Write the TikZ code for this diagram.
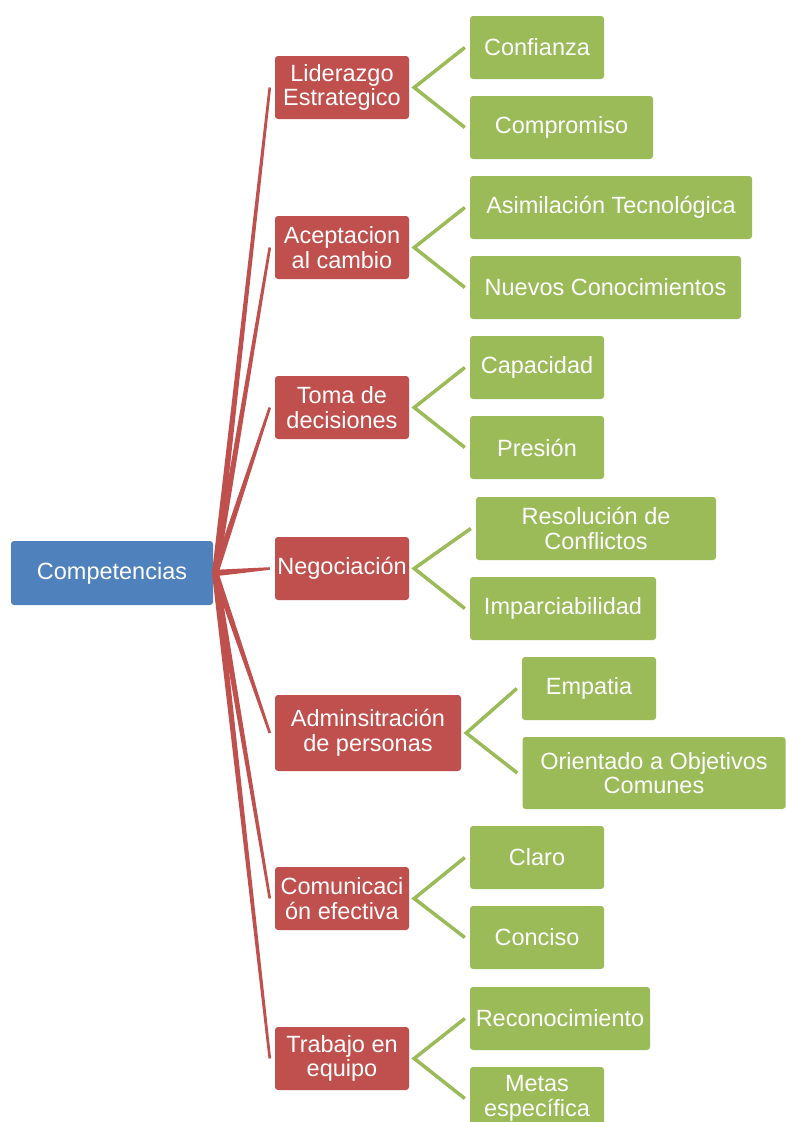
\documentclass[tikz,border=0pt]{standalone}
\usepackage{fontspec}
\setmainfont{Liberation Sans}
\usetikzlibrary{calc}
\definecolor{rootblue}{HTML}{4F81BD}
\definecolor{skillred}{HTML}{C0504D}
\definecolor{itemgreen}{HTML}{9BBB59}

\begin{document}
\begin{tikzpicture}[
  x=1pt, y=-1pt,
  box/.style={rounded corners=3pt, fill=#1, text=white, align=center, inner xsep=1pt,
    font=\fontsize{23.5}{24.5}\selectfont},
  redlink/.style={fill=skillred},
  greenlink/.style={draw=itemgreen, line width=3.5pt, miter limit=10}
]
\useasboundingbox (0,0) rectangle (786,1122);

% root
\node[box=rootblue, minimum width=202, minimum height=64] (root) at (112,573) {Competencias};

% competences
\node[box=skillred, minimum width=134, minimum height=63] (lid) at (342,87.5) {Liderazgo\\Estrategico};
\node[box=skillred, minimum width=134, minimum height=63] (acp) at (342,247.5) {Aceptacion\\al cambio};
\node[box=skillred, minimum width=134, minimum height=63] (tom) at (342,407.5) {Toma de\\decisiones};
\node[box=skillred, minimum width=134, minimum height=63] (neg) at (342,568.5) {Negociación};
\node[box=skillred, minimum width=186, minimum height=76] (adm) at (368,733) {Adminsitración\\de personas};
\node[box=skillred, minimum width=134, minimum height=63] (com) at (342,898.5) {Comunicaci\\ón efectiva};
\node[box=skillred, minimum width=134, minimum height=63] (tra) at (342,1058.5) {Trabajo en\\equipo};

% items
\node[box=itemgreen, minimum width=134, minimum height=63] (conf) at (537,47.5) {Confianza};
\node[box=itemgreen, minimum width=183, minimum height=63] (comp) at (561.5,127.5) {Compromiso};
\node[box=itemgreen, minimum width=282, minimum height=63] (asim) at (611,207.5) {Asimilación Tecnológica};
\node[box=itemgreen, minimum width=271, minimum height=63] (nuev) at (605.5,287.5) {Nuevos Conocimientos};
\node[box=itemgreen, minimum width=134, minimum height=63] (cap) at (537,367.5) {Capacidad};
\node[box=itemgreen, minimum width=134, minimum height=63] (pres) at (537,447.5) {Presión};
\node[box=itemgreen, minimum width=240, minimum height=63] (reso) at (596,528.5) {Resolución de\\Conflictos};
\node[box=itemgreen, minimum width=186, minimum height=63] (impa) at (563,608.5) {Imparciabilidad};
\node[box=itemgreen, minimum width=134, minimum height=63] (empa) at (589,688.5) {Empatia};
\node[box=itemgreen, minimum width=263, minimum height=72] (orie) at (654,773) {Orientado a Objetivos\\Comunes};
\node[box=itemgreen, minimum width=134, minimum height=63] (clar) at (537,857.5) {Claro};
\node[box=itemgreen, minimum width=134, minimum height=63] (conc) at (537,937.5) {Conciso};
\node[box=itemgreen, minimum width=180, minimum height=63] (reco) at (560,1018.5) {Reconocimiento};
\node[box=itemgreen, minimum width=134, minimum height=63] (meta) at (537,1098.5) {Metas\\específica};

% tapered links from the root
\foreach \n in {lid,acp,tom,neg,adm,com,tra} {
  \coordinate (s) at ($(root.east)+(2,0)$);
  \coordinate (e) at ($(\n.west)+(-5,0)$);
  \fill[redlink] ($(s)!3.2pt!90:(e)$) -- ($(e)!1.3pt!-90:(s)$)
    -- ($(e)!1.3pt!90:(s)$) -- ($(s)!3.2pt!-90:(e)$) -- cycle;
}

% forks to the items
\foreach \a/\p/\b in {conf/lid/comp, asim/acp/nuev, cap/tom/pres, reso/neg/impa,
                      empa/adm/orie, clar/com/conc, reco/tra/meta}
  \draw[greenlink] ($(\a.west)+(-5,0)$) -- ($(\p.east)+(5,0)$) -- ($(\b.west)+(-5,0)$);

\end{tikzpicture}
\end{document}
